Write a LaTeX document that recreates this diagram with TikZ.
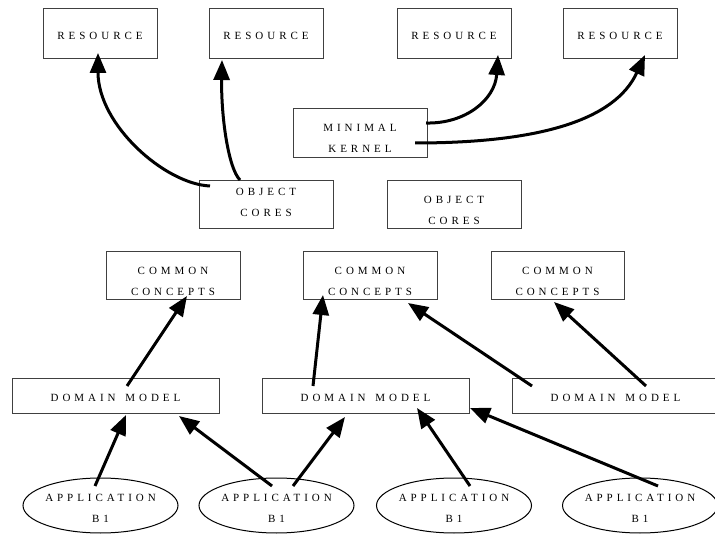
\documentclass[tikz,border=0pt]{standalone}
\usepackage{fontspec}
\newfontfamily\lblfont{Liberation Serif}[LetterSpace=36]
\usetikzlibrary{arrows.meta,shapes.geometric}
\begin{document}
\begin{tikzpicture}[x=1pt,y=-1pt,
  lbl/.style={font=\lblfont\fontsize{11}{21}\selectfont, align=center, text=black, inner sep=0pt},
  box/.style={draw=black!75, line width=1pt, rectangle, inner sep=0pt},
  rbox/.style={box, minimum width=114pt, minimum height=50pt},
  kbox/.style={box, minimum width=134pt, minimum height=48pt},
  dbox/.style={box, minimum width=207pt, minimum height=35pt},
  app/.style={draw=black, line width=1pt, ellipse, inner sep=0pt, minimum width=155pt, minimum height=55pt},
  link/.style={line width=3pt, -{Triangle[length=20pt,width=16pt]}}]
\useasboundingbox (0,0) rectangle (715,534);
\clip (0,0) rectangle (715,534);

% resources
\node[rbox] (r1) at (100,34) {};
\node[rbox] (r2) at (266,34) {};
\node[rbox] (r3) at (454,34) {};
\node[rbox] (r4) at (620,34) {};
\node[lbl] (r1t) at (100,35.5) {RESOURCE};
\node[lbl] (r2t) at (266,35.5) {RESOURCE};
\node[lbl] (r3t) at (454,35.5) {RESOURCE};
\node[lbl] (r4t) at (620,35.5) {RESOURCE};

% kernel and object cores
\node[kbox, minimum height=49pt] (mk) at (360,133.5) {};
\node[kbox] (oc1) at (266,205) {};
\node[kbox] (oc2) at (454,205) {};
\node[lbl] (mkt) at (360,138.5) {MINIMAL\\KERNEL};
\node[lbl] (oc1t) at (266,202.5) {OBJECT\\CORES};
\node[lbl] (oc2t) at (454,210) {OBJECT\\CORES};

% common concepts
\node[kbox] (cc1) at (173,276) {};
\node[kbox] (cc2) at (370,276) {};
\node[kbox, minimum width=133pt] (cc3) at (557.5,276) {};
\node[lbl] (cc1t) at (173,281) {COMMON\\CONCEPTS};
\node[lbl] (cc2t) at (370,281) {COMMON\\CONCEPTS};
\node[lbl] (cc3t) at (557.5,281) {COMMON\\CONCEPTS};

% domain models
\node[dbox] (dm1) at (115.5,396.5) {};
\node[dbox] (dm2) at (365.5,396.5) {};
\node[dbox] (dm3) at (615.5,396.5) {};
\node[lbl] (dm1t) at (115.5,397.5) {DOMAIN\hspace{3pt} MODEL};
\node[lbl] (dm2t) at (365.5,397.5) {DOMAIN\hspace{3pt} MODEL};
\node[lbl] (dm3t) at (615.5,397.5) {DOMAIN\hspace{3pt} MODEL};

% applications
\node[app] (ap1) at (100.5,505.5) {};
\node[app] (ap2) at (276.5,505.5) {};
\node[app] (ap3) at (454,505.5) {};
\node[app] (ap4) at (640,505.5) {};
\node[lbl] (ap1t) at (100.5,508.5) {APPLICATION\\B1};
\node[lbl] (ap2t) at (276.5,508.5) {APPLICATION\\B1};
\node[lbl] (ap3t) at (454,508.5) {APPLICATION\\B1};
\node[lbl] (ap4t) at (640,508.5) {APPLICATION\\B1};

% curved links to the resources
\draw[link] ([shift={(-56,-19)}]oc1.center) .. controls (165,184) and (98,125) .. ([shift={(-2,19)}]r1.center);
\draw[link] ([shift={(-26,-25)}]oc1.center) .. controls (228,168) and (221,115) .. ([shift={(-44,26)}]r2.center);
\draw[link] ([shift={(66,-10.5)}]mk.center) .. controls (465,124) and (495,100) .. ([shift={(44,21)}]r3.center);
\draw[link] ([shift={(55,9.5)}]mk.center) .. controls (540,143) and (615,120) .. ([shift={(25,21)}]r4.center);

% domain models to common concepts
\draw[link] ([shift={(11.5,-10.5)}]dm1.center) -- ([shift={(14,20)}]cc1.center);
\draw[link] ([shift={(-52.5,-10.5)}]dm2.center) -- ([shift={(-47,19)}]cc2.center);
\draw[link] ([shift={(-83.5,-10.5)}]dm3.center) -- ([shift={(38,27)}]cc2.center);
\draw[link] ([shift={(30.5,-10.5)}]dm3.center) -- ([shift={(-3.5,26)}]cc3.center);

% applications to domain models
\draw[link] ([shift={(-5.5,-19.5)}]ap1.center) -- ([shift={(10.5,18.5)}]dm1.center);
\draw[link] ([shift={(-4.5,-19.5)}]ap2.center) -- ([shift={(63.5,19.5)}]dm1.center);
\draw[link] ([shift={(16.5,-19.5)}]ap2.center) -- ([shift={(-20.5,20.5)}]dm2.center);
\draw[link] ([shift={(16,-19.5)}]ap3.center) -- ([shift={(51.5,11.5)}]dm2.center);
\draw[link] ([shift={(18,-19.5)}]ap4.center) -- ([shift={(104.5,11.5)}]dm2.center);
\end{tikzpicture}
\end{document}
